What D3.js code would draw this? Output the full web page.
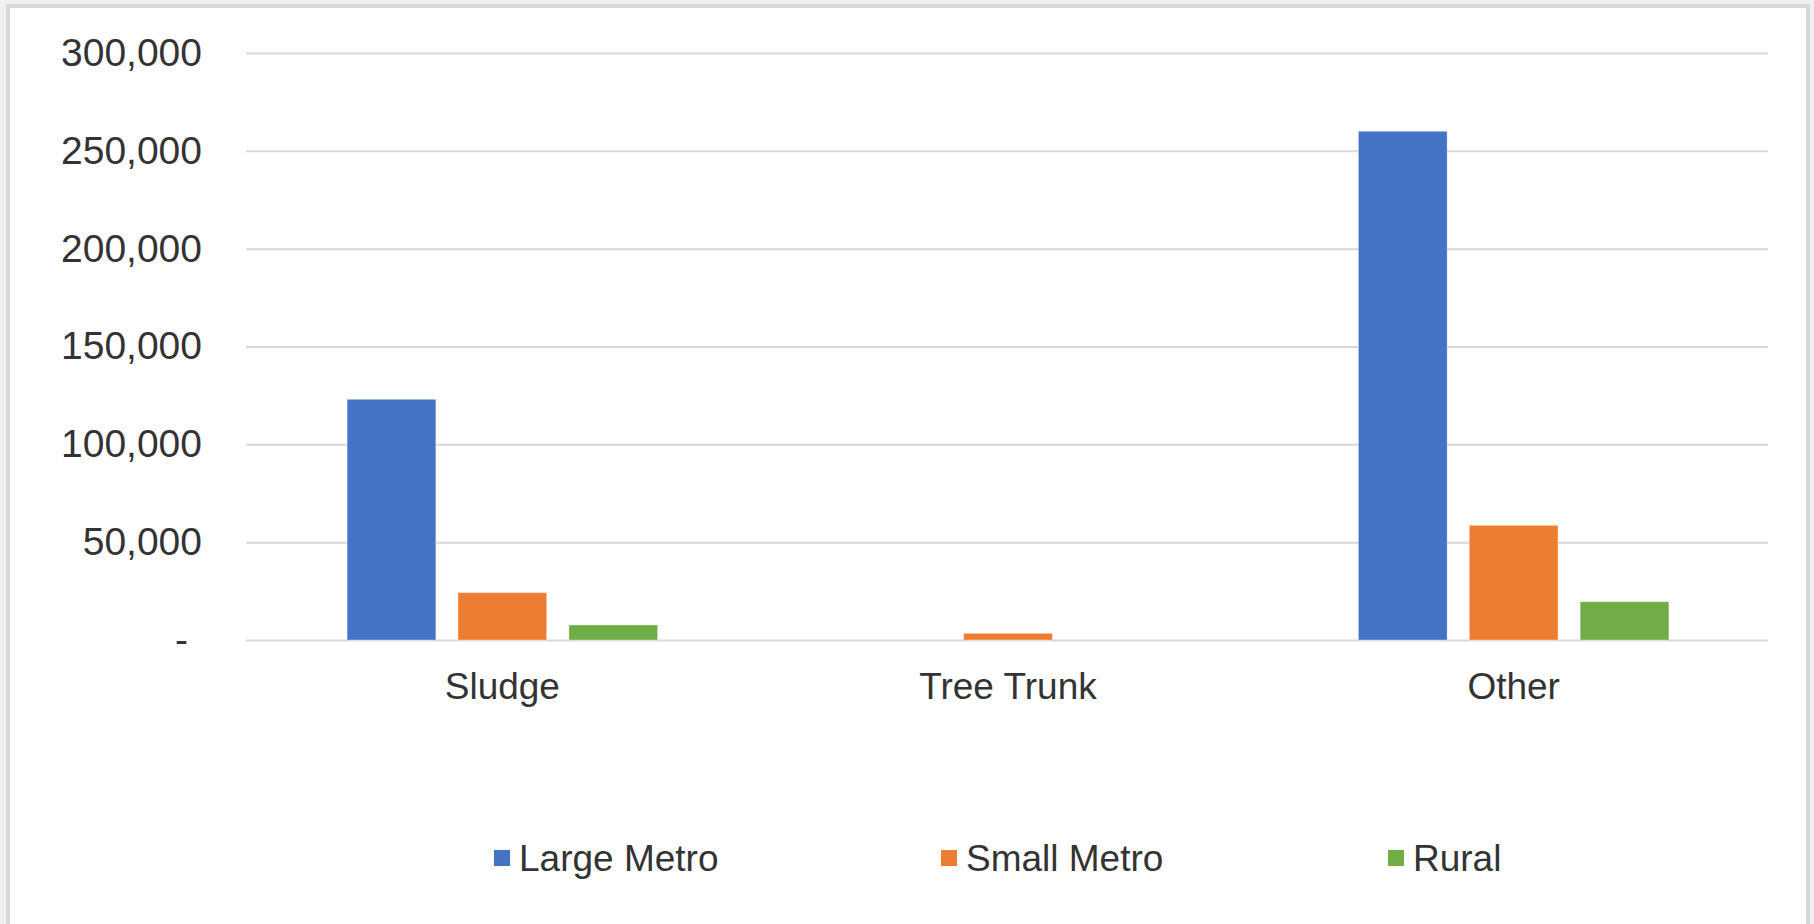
<!DOCTYPE html>
<html>
<head>
<meta charset="utf-8">
<script src="https://cdn.jsdelivr.net/npm/d3@7"></script>
<style>
  html, body { margin: 0; padding: 0; background: #ffffff; }
  svg { display: block; }
  text { font-family: "Liberation Sans", Arial, sans-serif; }
</style>
</head>
<body>
<svg id="chart" width="1814" height="924"></svg>
<script>
// ---- data ----
const categories = ["Sludge", "Tree Trunk", "Other"];
const seriesNames = ["Large Metro", "Small Metro", "Rural"];
const largeMetro = [123000, 0, 260000];
const smallMetro = [24200, 3400, 58600];
const rural = [7700, 0, 19600];
const yTicks = [0, 50000, 100000, 150000, 200000, 250000, 300000];
const colors = ["#4472C4", "#ED7D31", "#70AD47"];

const seriesValues = [largeMetro, smallMetro, rural];
const rows = categories.map((c, i) => ({
  category: c,
  values: seriesNames.map((s, j) => ({ series: s, value: seriesValues[j][i], color: colors[j] }))
}));

// ---- layout ----
const W = 1814, H = 924;
const plot = { left: 246, right: 1768, top: 53, bottom: 640 };

const svg = d3.select("#chart");

// frame
svg.append("rect").attr("x", 0).attr("y", 0).attr("width", W).attr("height", H).attr("fill", "#f0f0f0");
svg.append("rect").attr("x", 6).attr("y", 4).attr("width", W - 10).attr("height", H).attr("fill", "#d9d9d9");
svg.append("rect").attr("x", 10).attr("y", 8).attr("width", W - 18).attr("height", H).attr("fill", "#ffffff");

const x0 = d3.scaleBand()
  .domain(categories)
  .range([plot.left + 2, plot.right])
  .paddingInner(0.386)
  .paddingOuter(0.196);

const x1 = d3.scaleBand()
  .domain(seriesNames)
  .range([0, x0.bandwidth()])
  .paddingInner(0.2)
  .paddingOuter(0);

const y = d3.scaleLinear().domain([0, 300000]).range([plot.bottom, plot.top]);

// gridlines
const grid = svg.append("g")
  .attr("transform", `translate(${plot.left},0)`)
  .call(d3.axisLeft(y).tickValues(yTicks).tickSize(-(plot.right - plot.left)).tickFormat(""));
grid.select(".domain").remove();
grid.selectAll("line").attr("stroke", "#d9d9d9").attr("stroke-width", 2);

// y axis labels
const fmt = d3.format(",");
const yAxis = svg.append("g")
  .attr("transform", `translate(${plot.left},0)`)
  .call(d3.axisLeft(y).tickValues(yTicks).tickSize(0).tickPadding(44)
    .tickFormat(d => d === 0 ? "-" : fmt(d)));
yAxis.select(".domain").remove();
yAxis.selectAll("text")
  .attr("fill", "#333333")
  .style("font-size", "39px")
  .attr("dx", d => d === 0 ? -14 : 0);

// bars
const groups = svg.append("g").selectAll("g")
  .data(rows)
  .join("g")
  .attr("transform", d => `translate(${x0(d.category)},0)`);

groups.selectAll("rect")
  .data(d => d.values.filter(v => v.value > 0))
  .join("rect")
  .attr("x", d => x1(d.series))
  .attr("width", x1.bandwidth())
  .attr("y", d => y(d.value))
  .attr("height", d => y(0) - y(d.value))
  .attr("fill", d => d.color)
  .attr("stroke", "#ffffff")
  .attr("stroke-opacity", 0.35)
  .attr("stroke-width", 1);

// x axis labels
const xAxis = svg.append("g")
  .attr("transform", `translate(0,${plot.bottom})`)
  .call(d3.axisBottom(x0).tickSize(0).tickPadding(33));
xAxis.select(".domain").remove();
xAxis.selectAll("text")
  .attr("fill", "#333333")
  .style("font-size", "37px");

// legend
const legendX = d3.scalePoint().domain(seriesNames).range([494, 1388]);
const legend = svg.append("g").selectAll("g")
  .data(seriesNames)
  .join("g")
  .attr("transform", d => `translate(${legendX(d)},858)`);
legend.append("rect")
  .attr("x", 0).attr("y", -8).attr("width", 16).attr("height", 16)
  .attr("fill", (d, i) => colors[i]);
legend.append("text")
  .attr("x", 25)
  .attr("dy", "0.35em")
  .attr("fill", "#333333")
  .style("font-size", "37px")
  .text(d => d);
</script>
</body>
</html>
